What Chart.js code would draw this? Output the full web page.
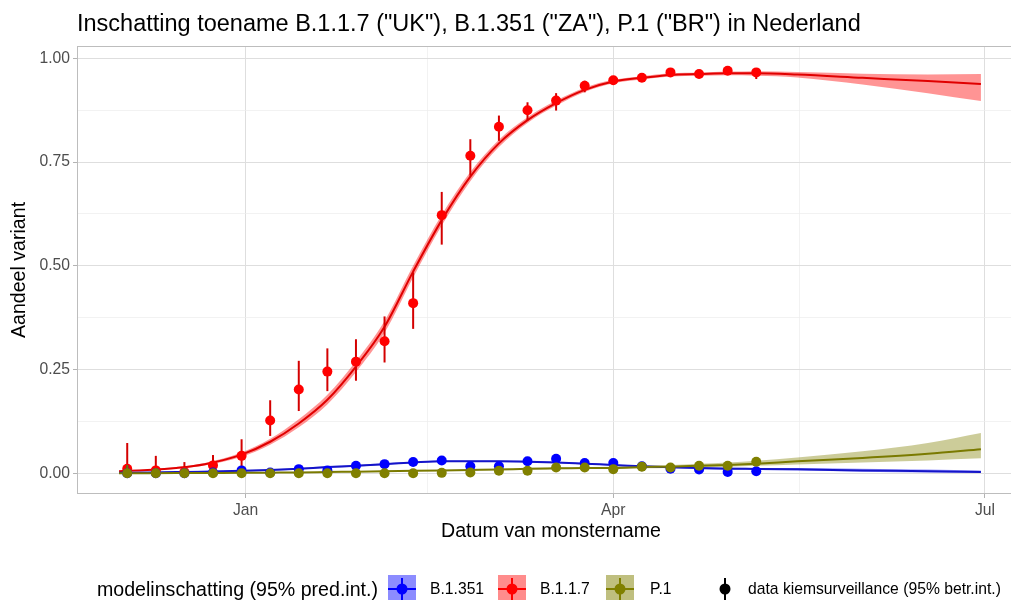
<!DOCTYPE html>
<html>
<head>
<meta charset="utf-8">
<script src="https://cdn.jsdelivr.net/npm/chart.js@4.4.1/dist/chart.umd.min.js"></script>
<style>
  body { margin: 0; background: #fff; overflow: hidden; font-family: "Liberation Sans", Arial, sans-serif; }
  #wrap { position: relative; width: 1011px; height: 600px; overflow: hidden; }
  #plot { position: absolute; left: 0; top: 0; }
  #title { position: absolute; left: 77px; top: 12px; font-size: 23.5px; line-height: 23.5px; color: #000; white-space: nowrap; }
  .lg { position: absolute; top: 575px; height: 28px; line-height: 28px; white-space: nowrap; color: #000; font-size: 15.7px; }
  .lg svg { display: block; }
</style>
</head>
<body>
<div id="wrap">
  <canvas id="plot" width="1030" height="600"></canvas>
  <div id="title">Inschatting toename B.1.1.7 ("UK"), B.1.351 ("ZA"), P.1 ("BR") in Nederland</div>
  <div id="legend"></div>
</div>
<script>
// dagen sinds 1 januari 2021
const fitDays = [-31, -24, -17, -10, -1, 6, 13, 20, 27, 34, 41, 48, 55, 62, 69, 76, 83, 90, 97, 104, 111, 118, 125, 135, 151, 167, 180];
const obsDays = [-29, -22, -15, -8, -1, 6, 13, 20, 27, 34, 41, 48, 55, 62, 69, 76, 83, 90, 97, 104, 111, 118, 125];

const variants = ['B.1.351', 'B.1.1.7', 'P.1'];

// modelschatting (lijn + 95% pred.int.)
const fitUK   = [0.005, 0.008, 0.013, 0.022, 0.045, 0.076, 0.12, 0.177, 0.257, 0.353, 0.486, 0.61, 0.715, 0.795, 0.851, 0.892, 0.924, 0.944, 0.953, 0.96, 0.962, 0.964, 0.964, 0.961, 0.953, 0.945, 0.938];
const fitUKlo = [0.004, 0.0065, 0.011, 0.019, 0.040, 0.069, 0.111, 0.166, 0.244, 0.339, 0.472, 0.597, 0.704, 0.786, 0.844, 0.886, 0.919, 0.940, 0.949, 0.956, 0.958, 0.959, 0.958, 0.954, 0.937, 0.916, 0.897];
const fitUKhi = [0.006, 0.0095, 0.015, 0.025, 0.050, 0.083, 0.130, 0.189, 0.270, 0.367, 0.500, 0.623, 0.726, 0.804, 0.858, 0.898, 0.929, 0.948, 0.957, 0.964, 0.966, 0.968, 0.969, 0.967, 0.963, 0.961, 0.962];

const fitZA   = [0.001, 0.002, 0.003, 0.004, 0.006, 0.008, 0.011, 0.015, 0.018, 0.022, 0.026, 0.029, 0.029, 0.029, 0.028, 0.026, 0.023, 0.020, 0.017, 0.0145, 0.0125, 0.011, 0.0105, 0.0095, 0.007, 0.005, 0.003];
const fitZAlo = [0.0005, 0.001, 0.002, 0.003, 0.004, 0.006, 0.009, 0.013, 0.016, 0.020, 0.024, 0.027, 0.027, 0.027, 0.026, 0.024, 0.021, 0.018, 0.015, 0.012, 0.010, 0.009, 0.008, 0.007, 0.004, 0.002, 0.001];
const fitZAhi = [0.002, 0.003, 0.004, 0.006, 0.008, 0.010, 0.013, 0.017, 0.020, 0.024, 0.028, 0.031, 0.031, 0.031, 0.030, 0.028, 0.025, 0.022, 0.019, 0.017, 0.015, 0.014, 0.013, 0.013, 0.011, 0.009, 0.007];

const fitBR   = [0.0002, 0.0003, 0.0005, 0.0008, 0.001, 0.0015, 0.002, 0.003, 0.004, 0.005, 0.006, 0.007, 0.008, 0.009, 0.011, 0.012, 0.013, 0.013, 0.015, 0.016, 0.018, 0.020, 0.023, 0.029, 0.037, 0.047, 0.058];
const fitBRlo = [0, 0.0001, 0.0002, 0.0004, 0.0006, 0.001, 0.0014, 0.002, 0.003, 0.004, 0.005, 0.006, 0.007, 0.008, 0.009, 0.010, 0.011, 0.011, 0.012, 0.013, 0.015, 0.016, 0.018, 0.021, 0.026, 0.031, 0.036];
const fitBRhi = [0.0006, 0.0008, 0.001, 0.0014, 0.0018, 0.0022, 0.003, 0.004, 0.005, 0.006, 0.007, 0.008, 0.009, 0.011, 0.013, 0.014, 0.015, 0.016, 0.018, 0.020, 0.023, 0.026, 0.030, 0.038, 0.053, 0.073, 0.097];

// data kiemsurveillance (punt + 95% betr.int.)
const obsUK   = [0.011, 0.007, 0.003, 0.019, 0.042, 0.127, 0.202, 0.245, 0.269, 0.318, 0.41, 0.622, 0.765, 0.835, 0.875, 0.898, 0.934, 0.947, 0.953, 0.966, 0.962, 0.970, 0.966];
const obsUKlo = [0.002, 0.001, 0.0, 0.006, 0.012, 0.09, 0.15, 0.198, 0.223, 0.267, 0.348, 0.551, 0.717, 0.801, 0.85, 0.874, 0.918, 0.937, 0.943, 0.957, 0.952, 0.962, 0.950];
const obsUKhi = [0.073, 0.042, 0.027, 0.044, 0.082, 0.176, 0.271, 0.301, 0.323, 0.378, 0.484, 0.678, 0.805, 0.862, 0.894, 0.916, 0.946, 0.956, 0.962, 0.974, 0.970, 0.977, 0.975];

const obsZA   = [0.000, 0.000, 0.000, 0.002, 0.007, 0.002, 0.010, 0.007, 0.018, 0.022, 0.027, 0.031, 0.017, 0.017, 0.029, 0.035, 0.025, 0.025, 0.017, 0.011, 0.009, 0.003, 0.005];
const obsZAlo = [0, 0, 0, 0, 0.002, 0, 0.005, 0.003, 0.012, 0.016, 0.021, 0.025, 0.012, 0.012, 0.023, 0.029, 0.020, 0.021, 0.014, 0.008, 0.006, 0.001, 0.002];
const obsZAhi = [0.020, 0.012, 0.008, 0.008, 0.015, 0.008, 0.017, 0.013, 0.025, 0.029, 0.034, 0.038, 0.023, 0.023, 0.036, 0.042, 0.031, 0.030, 0.021, 0.015, 0.013, 0.006, 0.009];

const obsBR   = [0, 0, 0, 0, 0, 0, 0, 0, 0, 0, 0, 0.001, 0.002, 0.006, 0.006, 0.014, 0.014, 0.010, 0.016, 0.014, 0.018, 0.018, 0.028];
const obsBRlo = [0, 0, 0, 0, 0, 0, 0, 0, 0, 0, 0, 0, 0, 0.003, 0.003, 0.010, 0.010, 0.007, 0.012, 0.011, 0.014, 0.014, 0.022];
const obsBRhi = [0.020, 0.012, 0.008, 0.004, 0.003, 0.003, 0.002, 0.002, 0.002, 0.002, 0.002, 0.003, 0.005, 0.010, 0.010, 0.019, 0.019, 0.014, 0.020, 0.018, 0.022, 0.023, 0.035];

// assen
const xMajorDays = [0, 90, 181];
const xMajorLabels = ['Jan', 'Apr', 'Jul'];
const xMinorDays = [44.5, 135.5];
const yMajor = [0, 0.25, 0.5, 0.75, 1];
const yMinor = [0.125, 0.375, 0.625, 0.875];

const FONT = '"Liberation Sans", Arial, sans-serif';
const series = {
  'B.1.1.7': { line: '#e00000', point: '#ff0000', err: '#d40000', band: 'rgba(255,0,0,0.42)', key: 'rgba(255,0,0,0.45)',
               fit: fitUK, lo: fitUKlo, hi: fitUKhi, obs: obsUK, olo: obsUKlo, ohi: obsUKhi },
  'B.1.351': { line: '#1414c8', point: '#0000ff', err: '#0000e0', band: 'rgba(0,0,255,0.4)', key: 'rgba(0,0,255,0.45)',
               fit: fitZA, lo: fitZAlo, hi: fitZAhi, obs: obsZA, olo: obsZAlo, ohi: obsZAhi },
  'P.1':     { line: '#7a7a00', point: '#808000', err: '#777700', band: 'rgba(128,128,0,0.4)', key: 'rgba(128,128,0,0.5)',
               fit: fitBR, lo: fitBRlo, hi: fitBRhi, obs: obsBR, olo: obsBRlo, ohi: obsBRhi }
};

const xy = (xs, ys) => xs.map((x, i) => ({ x: x, y: ys[i] }));

// tekenvolgorde zoals ggplot: B.1.1.7, B.1.351, P.1 (laatste bovenop)
const drawOrder = ['B.1.1.7', 'B.1.351', 'P.1'];
const datasets = [];
drawOrder.forEach((name, k) => {
  const s = series[name];
  datasets.push({ data: xy(fitDays, s.lo), borderColor: 'transparent', borderWidth: 0, pointRadius: 0,
                  fill: false, cubicInterpolationMode: 'monotone', order: 40 - k });
  datasets.push({ data: xy(fitDays, s.hi), borderColor: 'transparent', borderWidth: 0, pointRadius: 0,
                  fill: '-1', backgroundColor: s.band, cubicInterpolationMode: 'monotone', order: 40 - k });
});
drawOrder.forEach((name, k) => {
  const s = series[name];
  datasets.push({ data: xy(fitDays, s.fit), borderColor: s.line, borderWidth: 2, pointRadius: 0,
                  fill: false, cubicInterpolationMode: 'monotone', order: 30 - k });
});
drawOrder.forEach((name, k) => {
  const s = series[name];
  datasets.push({ data: xy(obsDays, s.obs), showLine: false, pointRadius: 5, pointBorderWidth: 0,
                  pointBackgroundColor: s.point, pointBorderColor: s.point, order: 20 - k,
                  errLo: s.olo, errHi: s.ohi, errColor: s.err });
});

// foutbalken net voor de punten van dezelfde reeks
const errorBars = {
  id: 'errorBars',
  beforeDatasetDraw(chart, args) {
    const ds = chart.data.datasets[args.index];
    if (!ds.errLo) return;
    const { ctx, chartArea: a, scales: { x, y } } = chart;
    ctx.save();
    ctx.beginPath();
    ctx.rect(a.left, a.top, a.right - a.left, a.bottom - a.top);
    ctx.clip();
    ctx.strokeStyle = ds.errColor;
    ctx.lineWidth = 2;
    ds.data.forEach((p, i) => {
      const px = x.getPixelForValue(p.x);
      ctx.beginPath();
      ctx.moveTo(px, y.getPixelForValue(ds.errLo[i]));
      ctx.lineTo(px, y.getPixelForValue(ds.errHi[i]));
      ctx.stroke();
    });
    ctx.restore();
  }
};

const panelBorder = {
  id: 'panelBorder',
  beforeDatasetsDraw(chart) {
    const { ctx, chartArea: a } = chart;
    ctx.save();
    ctx.strokeStyle = '#bdbdbd';
    ctx.lineWidth = 1;
    ctx.strokeRect(a.left - 0.5, a.top - 0.5, a.right - a.left + 1, a.bottom - a.top + 1);
    ctx.restore();
  }
};

const xAll = xMajorDays.concat(xMinorDays).sort((a, b) => a - b);
const yAll = yMajor.concat(yMinor).sort((a, b) => a - b);

new Chart(document.getElementById('plot').getContext('2d'), {
  type: 'line',
  data: { datasets: datasets },
  plugins: [panelBorder, errorBars],
  options: {
    responsive: false,
    animation: false,
    events: [],
    layout: { padding: { left: 0, top: 47, right: 6, bottom: 47 } },
    plugins: { legend: { display: false }, tooltip: { enabled: false }, title: { display: false } },
    scales: {
      x: {
        type: 'linear',
        min: -41.05,
        max: 190.55,
        afterBuildTicks: s => { s.ticks = xAll.map(v => ({ value: v })); },
        afterFit: s => { s.height = 60; },
        border: { display: false },
        grid: {
          color: c => xMajorDays.includes(c.tick.value) ? '#dedede' : '#ececec',
          lineWidth: c => xMajorDays.includes(c.tick.value) ? 1 : 0.7,
          tickLength: 5,
          tickColor: c => xMajorDays.includes(c.tick.value) ? '#b3b3b3' : 'rgba(0,0,0,0)'
        },
        ticks: {
          autoSkip: false, maxRotation: 0, padding: 3, color: '#4d4d4d',
          font: { family: FONT, size: 15.7 },
          callback: v => { const i = xMajorDays.indexOf(v); return i < 0 ? '' : xMajorLabels[i]; }
        },
        title: { display: true, text: 'Datum van monstername', color: '#000',
                 font: { family: FONT, size: 19.6, lineHeight: 1.2 }, padding: { top: 0, bottom: 10 } }
      },
      y: {
        type: 'linear',
        min: -0.0475,
        max: 1.0272,
        afterBuildTicks: s => { s.ticks = yAll.map(v => ({ value: v })); },
        afterFit: s => { s.width = 78; },
        border: { display: false },
        grid: {
          color: c => yMajor.includes(c.tick.value) ? '#dedede' : '#ececec',
          lineWidth: c => yMajor.includes(c.tick.value) ? 1 : 0.7,
          tickLength: 5,
          tickColor: c => yMajor.includes(c.tick.value) ? '#b3b3b3' : 'rgba(0,0,0,0)'
        },
        ticks: {
          autoSkip: false, padding: 3, color: '#4d4d4d',
          font: { family: FONT, size: 15.7 },
          callback: v => yMajor.includes(v) ? v.toFixed(2) : ''
        },
        title: { display: true, text: 'Aandeel variant', color: '#000',
                 font: { family: FONT, size: 19.6, lineHeight: 1.2 }, padding: { top: 8, bottom: 0 } }
      }
    }
  }
});

// legenda onderaan
function glyph(col, fill, box) {
  let svg = '<svg width="28" height="28">';
  if (box) {
    svg += '<rect width="28" height="28" fill="' + fill + '"/>';
    svg += '<line x1="0" y1="14" x2="28" y2="14" stroke="' + col + '" stroke-width="2"/>';
  }
  svg += '<line x1="14" y1="3" x2="14" y2="25" stroke="' + col + '" stroke-width="2"/>';
  svg += '<circle cx="14" cy="14" r="5.5" fill="' + col + '"/></svg>';
  return svg;
}
const legendBoxX = [388, 498, 606];
const legendLabelX = [430, 540, 650];
let html = '<div class="lg" style="left:97px;font-size:19.6px">modelinschatting (95% pred.int.)</div>';
variants.forEach((name, i) => {
  const s = series[name];
  html += '<div class="lg" style="left:' + legendBoxX[i] + 'px">' + glyph(s.point, s.key, true) + '</div>';
  html += '<div class="lg" style="left:' + legendLabelX[i] + 'px">' + name + '</div>';
});
html += '<div class="lg" style="left:711px">' + glyph('#000', null, false) + '</div>';
html += '<div class="lg" style="left:748px">data kiemsurveillance (95% betr.int.)</div>';
document.getElementById('legend').innerHTML = html;
</script>
</body>
</html>
